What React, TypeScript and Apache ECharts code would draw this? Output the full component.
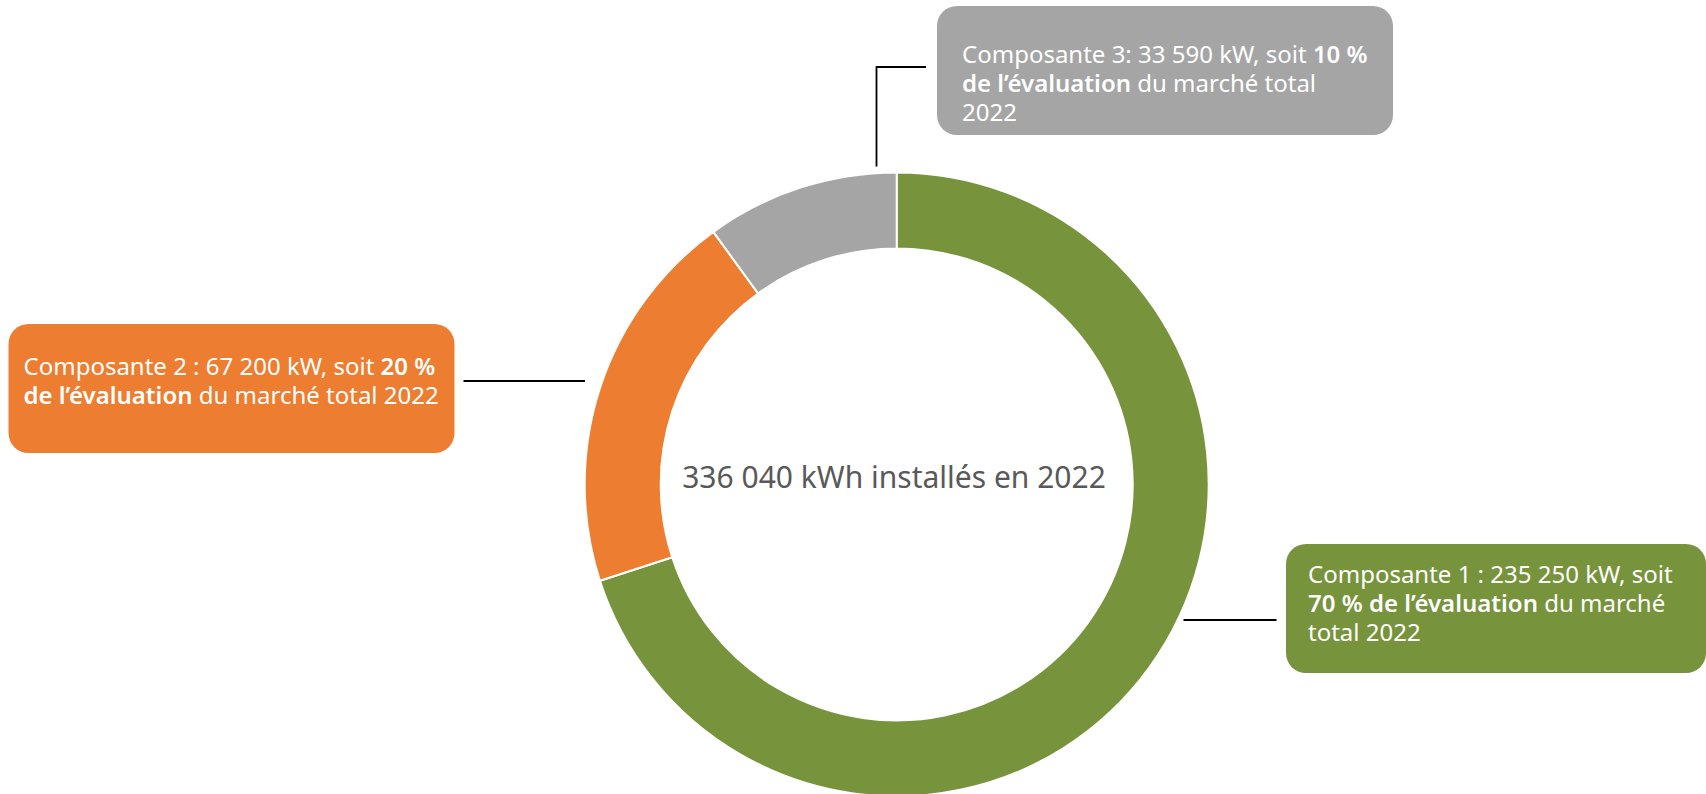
import React, { useEffect, useRef } from "react";
import * as echarts from "echarts";

const categories = ["Composante 1", "Composante 2", "Composante 3"];
const values = [235250, 67200, 33590];
const colors = ["#77933C", "#ED7D31", "#A5A5A5"];
const centerCaption = "kWh installés en 2022";
const marketYear = "2022";

const FONT = "'Noto Sans', 'DejaVu Sans', sans-serif";

const fmt = (v: number) => String(v).replace(/\B(?=(\d{3})+(?!\d))/g, " ");

export default function App() {
  const ref = useRef<HTMLDivElement>(null);

  useEffect(() => {
    if (!ref.current) return;
    const chart = echarts.init(ref.current, undefined, { renderer: "svg" });
    const total = values.reduce((a, b) => a + b, 0);
    const pct = values.map((v) => Math.round((v / total) * 100));

    const labelTexts = [
      `{n|${categories[0]} : ${fmt(values[0])} kW, soit}\n{b|${pct[0]} % de l’évaluation}{n| du marché}\n{n|total ${marketYear}}`,
      `{n|${categories[1]} : ${fmt(values[1])} kW, soit }{b|${pct[1]} %}\n{b|de l’évaluation}{n| du marché total ${marketYear}}`,
      `{n|${categories[2]}: ${fmt(values[2])} kW, soit }{b|${pct[2]} %}\n{b|de l’évaluation}{n| du marché total}\n{n|${marketYear}}`,
    ];

    // label box geometry
    const boxes = [
      { x: 1286, y: 544, w: 420, pad: [15, 20, 27, 22] },
      { x: 8.5, y: 324, w: 446, pad: [27, 6, 44, 15] },
      { x: 937, y: 6, w: 456, pad: [33, 20, 9, 25] },
    ];
    const guides = [
      [[1183.5, 620], [1230, 620], [1276.5, 620]],
      [[585, 381], [524, 381], [463.5, 381]],
      [[876.5, 166.5], [876.5, 67], [926, 67]],
    ];

    const rich = {
      n: { fontFamily: FONT, fontSize: 24, lineHeight: 29, color: "#ffffff" },
      b: { fontFamily: FONT, fontSize: 24, lineHeight: 29, color: "#ffffff", fontWeight: 600 },
    };

    const data = categories.map((name, i) => {
      const b = boxes[i];
      return {
        name,
        value: values[i],
        itemStyle: { color: colors[i] },
        label: {
          show: true,
          formatter: labelTexts[i],
          backgroundColor: colors[i],
          borderRadius: 20,
          padding: b.pad,
          width: b.w - b.pad[1] - b.pad[3],
          align: "left",
          verticalAlign: "top",
          rich,
        },
      };
    });

    chart.setOption({
      animation: false,
      backgroundColor: "#ffffff",
      series: [
        {
          type: "pie",
          radius: [236, 312],
          center: [896.7, 484.4],
          startAngle: 90,
          clockwise: true,
          avoidLabelOverlap: false,
          silent: true,
          itemStyle: { borderColor: "#ffffff", borderWidth: 2 },
          label: { show: true, position: "outside", fontFamily: FONT, fontSize: 24 },
          labelLine: { show: true, smooth: false, lineStyle: { color: "#000000", width: 1.8 } },
          labelLayout: (params: any) => {
            const i = params.dataIndex;
            const b = boxes[i];
            return {
              x: b.x,
              y: b.y,
              align: "left",
              verticalAlign: "top",
              labelLinePoints: guides[i],
            };
          },
          data,
        },
      ],
      graphic: [
        {
          type: "text",
          x: 894,
          y: 476,
          style: {
            text: `${fmt(total)} ${centerCaption}`,
            fontFamily: FONT,
            fontSize: 30,
            fill: "#595959",
            align: "center",
            verticalAlign: "middle",
          },
        },
      ],
    });

    return () => chart.dispose();
  }, []);

  return (
    <div
      ref={ref}
      style={{ position: "fixed", left: 0, top: 0, width: "1706px", height: "794px" }}
    />
  );
}
